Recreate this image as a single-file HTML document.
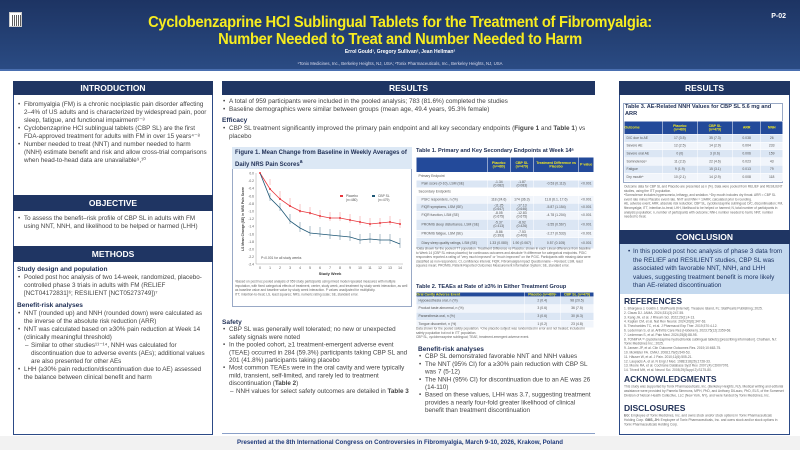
<!DOCTYPE html>
<html><head><meta charset="utf-8">
<style>
*{margin:0;padding:0;box-sizing:border-box}
body{width:800px;height:450px;position:relative;background:#fff;font-family:"Liberation Sans",sans-serif;color:#333;overflow:hidden}
.a{position:absolute}
.s{transform:scale(.5);transform-origin:0 0}
.hdr{background:linear-gradient(#1d3463,#2a4b83);left:0;top:0;width:800px;height:71px;border-bottom:2px solid #4a6fb0}
.t{color:#f7ec1f;font-weight:bold;font-size:16px;line-height:17px;text-align:center;width:800px;left:0;letter-spacing:-0.3px;transform:scaleX(0.92)}
.col{border:1px solid #2c4a86;}
.sh{background:#1f3563;color:#fff;font-weight:bold;text-align:center;font-size:8.5px;line-height:14px;height:14px}
.tx{font-size:12.6px;line-height:16px;color:#444}
.tx ul{list-style:none}
.tx li{padding-left:14px;position:relative}
.tx li:before{content:"•";position:absolute;left:2px}
.tx li.d:before{content:"–"}
.h{font-weight:bold;color:#1f2f55;font-size:13.2px}
.tb{border-collapse:collapse;font-size:6.8px;color:#555}
.tb td{border:1px solid #fff;padding:0 4px;height:15.6px;text-align:center}
.tb th{background:#234a9a;color:#f7ec1f;font-weight:bold;font-size:7px;border:1px solid #fff}
.tb tr:nth-child(even) td{background:#dbe6f4}
.tb tr:nth-child(odd) td{background:#f1f5fb}
.fn{font-size:6.4px;line-height:8.6px;color:#666}
.ref{font-size:6.6px;line-height:8.8px;color:#666}
.rh{font-weight:bold;color:#1f2f55;font-size:8.5px}
</style></head><body>
<div class="a hdr"></div>
<div class="a" style="left:9px;top:12px;width:13px;height:15px;background:#fff;border:1px solid #ccc"><div style="margin:2px;width:9px;height:11px;background:repeating-linear-gradient(90deg,#333 0 1px,#fff 1px 2px);opacity:.8"></div></div>
<div class="a" style="right:14px;top:13px;color:#fff;font-weight:bold;font-size:7px">P-02</div>
<div class="a t" style="top:14px">Cyclobenzaprine HCl Sublingual Tablets for the Treatment of Fibromyalgia:</div>
<div class="a t" style="top:31px">Number Needed to Treat and Number Needed to Harm</div>
<div class="a s" style="left:0;width:1600px;text-align:center;top:49px;color:#fff;font-size:10px;font-weight:bold">Errol Gould¹, Gregory Sullivan², Jean Hellman²</div>
<div class="a s" style="left:0;width:1600px;text-align:center;top:61px;color:#dde;font-size:8.6px">¹Tonix Medicines, Inc., Berkeley Heights, NJ, USA; ²Tonix Pharmaceuticals, Inc., Berkeley Heights, NJ, USA</div>

<!-- LEFT -->
<div class="a col" style="left:13px;top:81px;width:200px;height:354px"></div>
<div class="a sh" style="left:13px;top:81px;width:200px">INTRODUCTION</div>
<div class="a tx s" style="left:17px;top:100px;width:384px"><ul>
<li>Fibromyalgia (FM) is a chronic nociplastic pain disorder affecting 2–4% of US adults and is characterized by widespread pain, poor sleep, fatigue, and functional impairment¹⁻³</li>
<li>Cyclobenzaprine HCl sublingual tablets (CBP SL) are the first FDA-approved treatment for adults with FM in over 15 years⁴⁻⁸</li>
<li>Number needed to treat (NNT) and number needed to harm (NNH) estimate benefit and risk and allow cross-trial comparisons when head-to-head data are unavailable⁹,¹⁰</li></ul></div>
<div class="a sh" style="left:13px;top:195px;width:200px;height:16px;line-height:16px">OBJECTIVE</div>
<div class="a tx s" style="left:17px;top:214px;width:384px"><ul><li>To assess the benefit–risk profile of CBP SL in adults with FM using NNT, NNH, and likelihood to be helped or harmed (LHH)</li></ul></div>
<div class="a sh" style="left:13px;top:246px;width:200px;height:16px;line-height:16px">METHODS</div>
<div class="a tx s" style="left:17px;top:265px;width:384px"><div class="h">Study design and population</div><ul>
<li>Pooled post hoc analysis of two 14-week, randomized, placebo-controlled phase 3 trials in adults with FM (RELIEF [NCT04172831]⁶; RESILIENT [NCT05273749])⁷</li></ul>
<div class="h" style="margin-top:8px">Benefit-risk analyses</div><ul>
<li>NNT (rounded up) and NNH (rounded down) were calculated as the inverse of the absolute risk reduction (ARR)</li>
<li>NNT was calculated based on ≥30% pain reduction at Week 14 (clinically meaningful threshold)</li>
<li class="d" style="margin-left:14px">Similar to other studies¹¹⁻¹⁴, NNH was calculated for discontinuation due to adverse events (AEs); additional values are also presented for other AEs</li>
<li>LHH (≥30% pain reduction/discontinuation due to AE) assessed the balance between clinical benefit and harm</li></ul></div>

<!-- MIDDLE -->
<div class="a sh" style="left:222px;top:81px;width:373px">RESULTS</div>
<div class="a tx s" style="left:222px;top:97px;width:744px;font-size:12.8px;line-height:16px"><ul>
<li>A total of 959 participants were included in the pooled analysis; 783 (81.6%) completed the studies</li>
<li>Baseline demographics were similar between groups (mean age, 49.4 years, 95.3% female)</li></ul>
<div class="h" style="margin-top:6px">Efficacy</div><ul>
<li>CBP SL treatment significantly improved the primary pain endpoint and all key secondary endpoints (<b>Figure 1</b> and <b>Table 1</b>) vs placebo</li></ul></div>

<div class="a" style="left:232px;top:147px;width:180px;height:160px;border:1px solid #99a9c6"></div>
<div class="a" style="left:232px;top:147px;width:180px;height:22px;background:#dce8f5;font-size:6px;font-weight:bold;color:#1f2f55;padding:2px 3px;line-height:8.5px">Figure 1. Mean Change from Baseline in Weekly Averages of Daily NRS Pain Scores<sup>a</sup></div>
<svg class="a" style="left:232px;top:169px" width="180" height="110" viewBox="232 169 180 110">
<g font-size="6.6" fill="#555" font-family="Liberation Sans">
<line x1="256" y1="173" x2="256" y2="264" stroke="#888" stroke-width="0.4"/>
<line x1="256" y1="264" x2="403" y2="264" stroke="#888" stroke-width="0.4"/>
<g text-anchor="end">
<text transform="translate(254 174.5) scale(.5)">0.0</text><text transform="translate(254 182) scale(.5)">-0.2</text><text transform="translate(254 189.7) scale(.5)">-0.4</text><text transform="translate(254 197.3) scale(.5)">-0.6</text><text transform="translate(254 204.9) scale(.5)">-0.8</text><text transform="translate(254 212.5) scale(.5)">-1.0</text><text transform="translate(254 220.1) scale(.5)">-1.2</text><text transform="translate(254 227.7) scale(.5)">-1.4</text><text transform="translate(254 235.3) scale(.5)">-1.6</text><text transform="translate(254 242.9) scale(.5)">-1.8</text><text transform="translate(254 250.5) scale(.5)">-2.0</text><text transform="translate(254 258.1) scale(.5)">-2.2</text><text transform="translate(254 265.7) scale(.5)">-2.4</text></g>
<g text-anchor="middle"><text transform="translate(260 269) scale(.5)">0</text><text transform="translate(270 269) scale(.5)">1</text><text transform="translate(280 269) scale(.5)">2</text><text transform="translate(290 269) scale(.5)">3</text><text transform="translate(300 269) scale(.5)">4</text><text transform="translate(310 269) scale(.5)">5</text><text transform="translate(320 269) scale(.5)">6</text><text transform="translate(330 269) scale(.5)">7</text><text transform="translate(340 269) scale(.5)">8</text><text transform="translate(350 269) scale(.5)">9</text><text transform="translate(360 269) scale(.5)">10</text><text transform="translate(370 269) scale(.5)">11</text><text transform="translate(380 269) scale(.5)">12</text><text transform="translate(390 269) scale(.5)">13</text><text transform="translate(400 269) scale(.5)">14</text>
<text transform="translate(330 275) scale(.5)" font-weight="bold" font-size="8" fill="#333">Study Week</text></g>
<text transform="translate(244 219) rotate(-90) scale(.5)" text-anchor="middle" font-weight="bold" fill="#333">LS Mean Change (SE) in NRS Pain Score</text>
<text transform="translate(261 259) scale(.5)">P&lt;0.001 for all study weeks</text>
<rect x="340" y="195" width="3" height="2" fill="#e8363c"/><text transform="translate(346 197) scale(.5)">Placebo</text><text transform="translate(346 201) scale(.5)">(n=480)</text>
<rect x="372" y="195" width="3" height="2" fill="#1d5675"/><text transform="translate(378 197) scale(.5)">CBP SL</text><text transform="translate(378 201) scale(.5)">(n=479)</text>
</g>
<g stroke="#f08a8e" stroke-width="0.5">
<path d="M270 185v-6M280 199v-8M290 206v-8M300 213v-9M310 215v-8M320 219v-9M330 221v-9M340 221v-9M350 223v-9M360 225v-9M370 227v-9M380 227v-9M390 225v-9M400 228v-9"/></g>
<g stroke="#5a7f93" stroke-width="0.5">
<path d="M270 201v-8M280 211v-8M290 224v-10M300 232v-10M310 236v-10M320 237v-10M330 239v-10M340 240v-10M350 241v-10M360 244v-10M370 243v-10M380 244v-10M390 244v-10M400 248v-10"/></g>
<polyline fill="none" stroke="#e8363c" stroke-width="0.8" points="260,173 270,189 280,199 290,206 300,211 310,213 320,216 330,218 340,218 350,220 360,222 370,224 380,223 390,222 400,224"/>
<polyline fill="none" stroke="#1d5675" stroke-width="0.8" points="260,173 270,198 280,208 290,221 300,228 310,233 320,234 330,235 340,236 350,237 360,240 370,239 380,240 390,240 400,244"/>
<g fill="#e8363c"><circle cx="260" cy="173" r="1"/><circle cx="270" cy="189" r="1"/><circle cx="280" cy="199" r="1"/><circle cx="290" cy="206" r="1"/><circle cx="300" cy="211" r="1"/><circle cx="310" cy="213" r="1"/><circle cx="320" cy="216" r="1"/><circle cx="330" cy="218" r="1"/><circle cx="340" cy="218" r="1"/><circle cx="350" cy="220" r="1"/><circle cx="360" cy="222" r="1"/><circle cx="370" cy="224" r="1"/><circle cx="380" cy="223" r="1"/><circle cx="390" cy="222" r="1"/><circle cx="400" cy="224" r="1"/></g>
</svg>
<div class="a fn s" style="left:235px;top:280px;width:348px">ᵃBased on post hoc pooled analysis of 959 study participants using mixed model repeated measures with multiple imputation, with fixed categorical effects of treatment, center, study week, and treatment by study week interaction, as well as baseline value and baseline value by study week interaction. P values unadjusted for multiplicity.<br>ITT, intention-to-treat; LS, least squares; NRS, numeric rating scale; SE, standard error.</div>

<div class="a" style="left:416px;top:148px;width:178px;font-size:5.6px;font-weight:bold;color:#1f2f55;white-space:nowrap;overflow:hidden">Table 1. Primary and Key Secondary Endpoints at Week 14ᵃ</div>
<div class="a s" style="left:416px;top:157px;width:356px">
<table class="tb" style="width:356px">
<tr style="height:30px"><th style="width:142px"></th><th>Placebo<br>(n=480)</th><th>CBP SL<br>(n=479)</th><th>Treatment Difference vs Placebo</th><th>P value</th></tr>
<tr><td style="text-align:left;background:#fff">Primary Endpoint</td><td style="background:#fff"></td><td style="background:#fff"></td><td style="background:#fff"></td><td style="background:#fff"></td></tr>
<tr><td style="text-align:left;padding-left:10px;background:#dbe6f4">Pain score (0-10), LSM (SE)</td><td style="background:#dbe6f4">-1.34 (0.082)</td><td style="background:#dbe6f4">-1.87 (0.083)</td><td style="background:#dbe6f4">-0.53 (0.113)</td><td style="background:#dbe6f4">&lt;0.001</td></tr>
<tr><td style="text-align:left;background:#fff">Secondary Endpoints</td><td style="background:#fff"></td><td style="background:#fff"></td><td style="background:#fff"></td><td style="background:#fff"></td></tr>
<tr><td style="text-align:left;padding-left:10px">PGIC responders, n (%)</td><td>118 (24.6)</td><td>174 (36.3)</td><td>11.8 (6.1, 17.6)</td><td>&lt;0.001</td></tr>
<tr><td style="text-align:left;padding-left:10px">FIQR symptoms, LSM (SE)</td><td>-11.25 (0.647)</td><td>-17.13 (0.646)</td><td>-5.87 (1.154)</td><td>&lt;0.001</td></tr>
<tr><td style="text-align:left;padding-left:10px">FIQR function, LSM (SE)</td><td>-8.05 (0.675)</td><td>-12.83 (0.675)</td><td>-4.78 (1.204)</td><td>&lt;0.001</td></tr>
<tr style="height:22px"><td style="text-align:left;padding-left:10px">PROMIS sleep disturbance, LSM (SE)</td><td>-5.37 (0.413)</td><td>-8.92 (0.426)</td><td>-3.55 (0.567)</td><td>&lt;0.001</td></tr>
<tr><td style="text-align:left;padding-left:10px">PROMIS fatigue, LSM (SE)</td><td>-5.86 (0.393)</td><td>-7.53 (0.400)</td><td>-2.27 (0.533)</td><td>&lt;0.001</td></tr>
<tr style="height:22px"><td style="text-align:left;padding-left:10px">Diary sleep quality ratings, LSM (SE)</td><td>1.33 (0.080)</td><td>1.90 (0.067)</td><td>0.57 (0.105)</td><td>&lt;0.001</td></tr>
</table></div>
<div class="a fn s" style="left:416px;top:247px;width:356px">ᵃData shown for the pooled ITT population. Treatment Difference vs Placebo: shown in each Linear difference from baseline to Week 14 (CBP SL minus placebo) for continuous outcomes and absolute % difference for categorical endpoints. PGIC responders reported a rating of "very much improved" or "much improved" on the PGIC. Participants with missing data were classified as non-responders. CI, confidence interval; FIQR, Fibromyalgia Impact Questionnaire – Revised; LSM, least squares mean; PROMIS, Patient-Reported Outcomes Measurement Information System; SE, standard error.</div>

<div class="a" style="left:416px;top:284px;width:178px;font-size:5.6px;font-weight:bold;color:#1f2f55;white-space:nowrap;overflow:hidden">Table 2. TEAEs at Rate of ≥3% in Either Treatment Group</div>
<div class="a s" style="left:416px;top:292px;width:356px">
<table class="tb" style="width:356px">
<tr style="height:9px"><th style="text-align:left;width:216px">Oral Cavity Adverse Event</th><th>Placebo (n=480)ᵃ</th><th>CBP SL (n=479)</th></tr>
<tr><td style="text-align:left">Hypoaesthesia oral, n (%)</td><td>2 (0.4)</td><td>98 (20.5)</td></tr>
<tr><td style="text-align:left">Product taste abnormal, n (%)</td><td>3 (0.6)</td><td>36 (7.5)</td></tr>
<tr><td style="text-align:left">Paraesthesia oral, n (%)</td><td>3 (0.6)</td><td>30 (6.3)</td></tr>
<tr><td style="text-align:left">Tongue discomfort, n (%)</td><td>1 (0.2)</td><td>23 (4.8)</td></tr>
</table></div>
<div class="a fn s" style="left:416px;top:327px;width:356px">Data shown for the pooled safety population. ᵃOne placebo subject was randomized in error and not treated; included in safety population but not in ITT population.<br>CBP SL, cyclobenzaprine sublingual; TEAE, treatment-emergent adverse event.</div>

<div class="a tx s" style="left:222px;top:318px;width:376px;font-size:12.6px;line-height:15.4px"><div class="h">Safety</div><ul>
<li>CBP SL was generally well tolerated; no new or unexpected safety signals were noted</li>
<li>In the pooled cohort, ≥1 treatment-emergent adverse event (TEAE) occurred in 284 (59.3%) participants taking CBP SL and 201 (41.8%) participants taking placebo</li>
<li>Most common TEAEs were in the oral cavity and were typically mild, transient, self-limited, and rarely led to treatment discontinuation (<b>Table 2</b>)</li>
<li class="d" style="margin-left:14px">NNH values for select safety outcomes are detailed in <b>Table 3</b></li></ul></div>
<div class="a tx s" style="left:418px;top:345px;width:352px;font-size:12.6px;line-height:15.4px"><div class="h">Benefit-risk analyses</div><ul>
<li>CBP SL demonstrated favorable NNT and NNH values</li>
<li>The NNT (95% CI) for a ≥30% pain reduction with CBP SL was 7 (5-12)</li>
<li>The NNH (95% CI) for discontinuation due to an AE was 26 (14-110)</li>
<li>Based on these values, LHH was 3.7, suggesting treatment provides a nearly four-fold greater likelihood of clinical benefit than treatment discontinuation</li></ul></div>

<!-- RIGHT -->
<div class="a col" style="left:619px;top:81px;width:171px;height:354px"></div>
<div class="a sh" style="left:619px;top:81px;width:171px">RESULTS</div>
<div class="a" style="left:623px;top:103px;width:160px;height:80px;border:1px solid #99a9c6"></div>
<div class="a" style="left:625px;top:104px;width:158px;font-size:5.6px;font-weight:bold;color:#1f2f55;line-height:6.5px">Table 3. AE-Related NNH Values for CBP SL 5.6 mg and ARR</div>
<div class="a s" style="left:624px;top:121px;width:318px">
<table class="tb" style="width:318px">
<tr style="height:26px"><th style="text-align:left;width:76px">Outcome</th><th>Placebo<br>(n=480)</th><th>CBP SL<br>(n=479)</th><th>ARR</th><th>NNH</th></tr>
<tr><td style="text-align:left">D/C due to AE</td><td>17 (3.5)</td><td>35 (7.3)</td><td>0.038</td><td>26</td></tr>
<tr><td style="text-align:left">Severe AE</td><td>12 (2.5)</td><td>14 (2.9)</td><td>0.004</td><td>233</td></tr>
<tr><td style="text-align:left">Severe oral AE</td><td>0 (0)</td><td>3 (0.6)</td><td>0.006</td><td>159</td></tr>
<tr><td style="text-align:left">Somnolenceᵃ</td><td>11 (2.3)</td><td>22 (4.6)</td><td>0.023</td><td>43</td></tr>
<tr><td style="text-align:left">Fatigue</td><td>9 (1.9)</td><td>15 (3.1)</td><td>0.013</td><td>79</td></tr>
<tr><td style="text-align:left">Dry mouthᵇ</td><td>10 (2.1)</td><td>14 (2.9)</td><td>0.008</td><td>118</td></tr>
</table></div>
<div class="a fn s" style="left:624px;top:185px;width:320px">Outcome data for CBP SL and Placebo are presented as n (%). Data were pooled from RELIEF and RESILIENT studies, using the ITT population.<br>ᵃSomnolence includes hypersomnia, lethargy, and sedation. ᵇDry mouth includes dry throat. ARR = CBP SL event rate minus Placebo event rate. NNT and NNH = 1/ARR, calculated prior to rounding.<br>AE, adverse event; ARR, absolute risk reduction; CBP SL, cyclobenzaprine sublingual; D/C, discontinuation; FM, fibromyalgia; ITT, intention-to-treat; LHH, likelihood to be helped or harmed; N, total number of participants in analysis population; n, number of participants with outcome; NNH, number needed to harm; NNT, number needed to treat.</div>
<div class="a sh" style="left:619px;top:230px;width:171px;height:14px">CONCLUSION</div>
<div class="a" style="left:620px;top:244px;width:169px;height:50px;background:#c4d9ef"></div>
<div class="a tx" style="left:626px;top:248px;width:160px;font-size:6.4px;line-height:8.6px;color:#1f3563"><ul><li style="padding-left:7px">In this pooled post hoc analysis of phase 3 data from the RELIEF and RESILIENT studies, CBP SL was associated with favorable NNT, NNH, and LHH values, suggesting treatment benefit is more likely than AE-related discontinuation</li></ul></div>
<div class="a rh" style="left:624px;top:296px">REFERENCES</div>
<div class="a ref s" style="left:624px;top:307px;width:320px">1. Bhargava J, Goldin J. StatPearls [Internet]. Treasure Island, FL: StatPearls Publishing; 2025.<br>2. Clauw DJ. JAMA. 2024;331(3):247-55.<br>3. Kang JH, et al. J Rheum Sci. 2022;29(1):4-13.<br>4. Kaplan CM, et al. Nat Rev Neurol. 2024;20(6):347-63.<br>5. Theoharides TC, et al. J Pharmacol Exp Ther. 2019;370:4-12.<br>6. Lederman S, et al. Arthritis Care Res (Hoboken). 2023;75(12):2359-68.<br>7. Lederman S, et al. Pain Med. 2024;25(8):88-95.<br>8. TONMYA™ (cyclobenzaprine hydrochloride sublingual tablets) [prescribing information]. Chatham, NJ: Tonix Medicines Inc.; 2025.<br>9. Jansen JP, et al. Clin Outcome Outcomes Res. 2019;10:663-75.<br>10. McAlister FA. CMAJ. 2008;179(6):549-53.<br>11. Häuser W, et al. J Pain. 2010;11(6):505-21.<br>12. Laupacis A, et al. N Engl J Med. 1988;318(26):1728-33.<br>13. Moore RA, et al. Cochrane Database Syst Rev. 2007;(4):CD007076.<br>14. Trivedi MH, et al. Neurol Sci. 2008;29(Suppl 2):S175-80.</div>
<div class="a rh" style="left:624px;top:374px">ACKNOWLEDGMENTS</div>
<div class="a ref s" style="left:624px;top:385px;width:320px">This study was supported by Tonix Pharmaceuticals, Inc. (Berkeley Heights, NJ). Medical writing and editorial assistance were provided by Pamela Simmons, MPH, PhD, and Anthony DiLauro, PhD, ELS, of the Somerset Division of Nelson Health Collective, LLC (New York, NY), and were funded by Tonix Medicines, Inc.</div>
<div class="a rh" style="left:624px;top:403px">DISCLOSURES</div>
<div class="a ref s" style="left:624px;top:414px;width:320px"><b>EG:</b> Employee of Tonix Medicines, Inc. and owns stock and/or stock options in Tonix Pharmaceuticals Holding Corp. <b>GMS, JH:</b> Employee of Tonix Pharmaceuticals, Inc. and owns stock and/or stock options in Tonix Pharmaceuticals Holding Corp.</div>

<!-- FOOTER -->
<div class="a" style="left:0;top:436px;width:800px;height:14px;background:#f2f2f2"></div>
<div class="a" style="left:222px;top:433px;width:373px;height:1px;background:#8aa0c8"></div>
<div class="a" style="left:0;top:439px;width:800px;text-align:center;font-size:6.1px;font-weight:bold;color:#1f3a7a">Presented at the 8th International Congress on Controversies in Fibromyalgia, March 9-10, 2026, Krakow, Poland</div>
</body></html>
